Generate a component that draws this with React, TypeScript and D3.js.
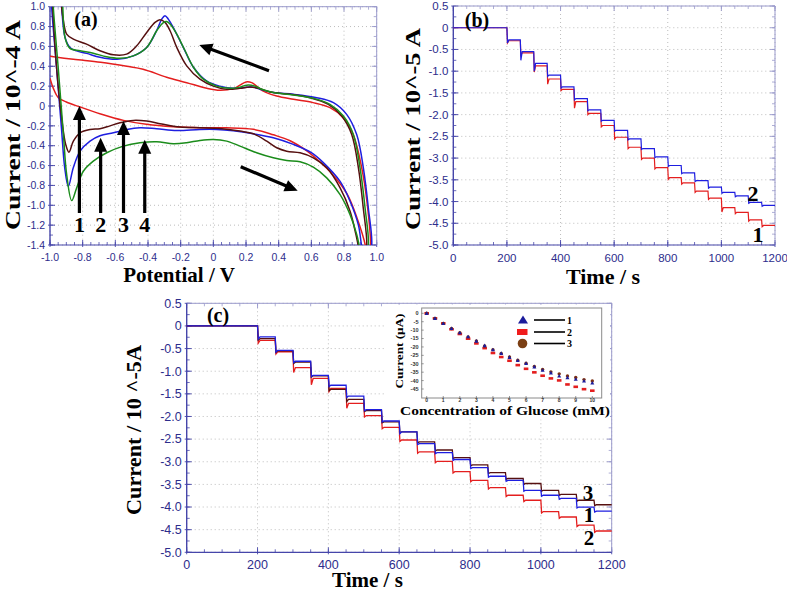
import React from "react";
import * as d3 from "d3";

type P = [number, number];

// ---------- Panel (a): cyclic voltammograms (potential V, current 10^-4 A) ----------
const cvRed: P[] = [
  [-1.0, 0.28], [-0.98, 0.18], [-0.949, 0.084], [-0.9, 0.04], [-0.816, -0.01], [-0.69, -0.08],
  [-0.55, -0.145], [-0.41, -0.185], [-0.245, -0.21], [-0.08, -0.22], [0.08, -0.22], [0.245, -0.235],
  [0.367, -0.29], [0.47, -0.35], [0.57, -0.45], [0.65, -0.56], [0.73, -0.69], [0.82, -0.89],
  [0.88, -1.13], [0.93, -1.4], [0.945, -1.6], [0.963, -1.45], [0.94, -0.96], [0.908, -0.62],
  [0.857, -0.29], [0.796, -0.12], [0.714, -0.017], [0.61, 0.034], [0.49, 0.067], [0.388, 0.1],
  [0.306, 0.15], [0.265, 0.2], [0.235, 0.235], [0.2, 0.242], [0.163, 0.21], [0.122, 0.175],
  [0.04, 0.158], [-0.04, 0.178], [-0.163, 0.235], [-0.286, 0.29], [-0.43, 0.37], [-0.53, 0.4],
  [-0.69, 0.44], [-0.857, 0.47], [-1.0, 0.5],
];
const cvBlue: P[] = [
  [-0.995, 1.2], [-0.99, 1.0], [-0.96, 0.39], [-0.93, -0.22], [-0.91, -0.62], [-0.888, -0.81],
  [-0.857, -0.62], [-0.816, -0.455], [-0.755, -0.354], [-0.694, -0.3], [-0.612, -0.27], [-0.53, -0.236],
  [-0.449, -0.219], [-0.347, -0.229], [-0.224, -0.246], [-0.082, -0.236], [0.02, -0.236], [0.122, -0.25],
  [0.245, -0.28], [0.367, -0.32], [0.49, -0.387], [0.6, -0.47], [0.673, -0.57], [0.776, -0.76],
  [0.837, -0.96], [0.888, -1.2], [0.908, -1.41], [0.935, -1.6], [0.969, -1.41], [0.949, -1.03],
  [0.918, -0.62], [0.878, -0.29], [0.816, -0.084], [0.735, 0.034], [0.633, 0.084], [0.49, 0.118],
  [0.367, 0.135], [0.286, 0.168], [0.245, 0.19], [0.184, 0.185], [0.122, 0.178], [0.04, 0.2],
  [-0.04, 0.25], [-0.122, 0.39], [-0.184, 0.59], [-0.245, 0.79], [-0.276, 0.875], [-0.296, 0.91],
  [-0.316, 0.875], [-0.347, 0.76], [-0.408, 0.59], [-0.49, 0.505], [-0.59, 0.47], [-0.694, 0.49],
  [-0.776, 0.53], [-0.837, 0.555], [-0.878, 0.59], [-0.908, 0.69], [-0.929, 1.0], [-0.94, 1.23],
];
const cvBrown: P[] = [
  [-0.99, 1.2], [-0.984, 1.0], [-0.96, 0.39], [-0.929, -0.118], [-0.904, -0.387], [-0.884, -0.465],
  [-0.857, -0.354], [-0.816, -0.27], [-0.755, -0.236], [-0.694, -0.229], [-0.633, -0.2], [-0.571, -0.168],
  [-0.49, -0.145], [-0.408, -0.152], [-0.327, -0.178], [-0.204, -0.212], [-0.082, -0.219], [0.04, -0.226],
  [0.163, -0.253], [0.245, -0.279], [0.327, -0.354], [0.388, -0.421], [0.449, -0.455], [0.531, -0.471],
  [0.612, -0.522], [0.694, -0.623], [0.776, -0.825], [0.837, -1.06], [0.873, -1.296], [0.888, -1.414],
  [0.915, -1.6], [0.939, -1.414], [0.918, -1.03], [0.888, -0.623], [0.847, -0.286], [0.786, -0.1],
  [0.704, 0.017], [0.592, 0.084], [0.47, 0.118], [0.347, 0.141], [0.276, 0.178], [0.224, 0.192],
  [0.163, 0.178], [0.082, 0.168], [0.0, 0.2], [-0.082, 0.27], [-0.163, 0.404], [-0.224, 0.59],
  [-0.265, 0.758], [-0.296, 0.842], [-0.327, 0.869], [-0.357, 0.842], [-0.408, 0.741], [-0.469, 0.606],
  [-0.531, 0.522], [-0.612, 0.515], [-0.694, 0.556], [-0.776, 0.623], [-0.857, 0.673], [-0.898, 0.724],
  [-0.918, 0.859], [-0.929, 1.0], [-0.935, 1.23],
];
const cvGreen: P[] = [
  [-0.985, 1.2], [-0.98, 1.0], [-0.95, 0.39], [-0.918, -0.286], [-0.898, -0.69], [-0.867, -0.953],
  [-0.837, -0.825], [-0.796, -0.657], [-0.735, -0.556], [-0.653, -0.471], [-0.551, -0.404], [-0.449, -0.37],
  [-0.347, -0.36], [-0.245, -0.38], [-0.163, -0.37], [-0.082, -0.347], [0.0, -0.337], [0.082, -0.354],
  [0.163, -0.404], [0.265, -0.471], [0.367, -0.522], [0.449, -0.549], [0.531, -0.562], [0.612, -0.616],
  [0.694, -0.724], [0.776, -0.892], [0.837, -1.094], [0.878, -1.296], [0.894, -1.414], [0.92, -1.6],
  [0.949, -1.414], [0.929, -1.03], [0.898, -0.623], [0.857, -0.286], [0.796, -0.1], [0.714, 0.017],
  [0.612, 0.077], [0.49, 0.111], [0.367, 0.135], [0.296, 0.168], [0.255, 0.2], [0.204, 0.21],
  [0.163, 0.19], [0.102, 0.178], [0.02, 0.2], [-0.061, 0.27], [-0.122, 0.39], [-0.173, 0.556],
  [-0.224, 0.724], [-0.265, 0.825], [-0.286, 0.85], [-0.306, 0.84], [-0.347, 0.758], [-0.408, 0.59],
  [-0.49, 0.505], [-0.571, 0.48], [-0.653, 0.495], [-0.735, 0.532], [-0.816, 0.556], [-0.878, 0.58],
  [-0.908, 0.69], [-0.922, 1.0], [-0.93, 1.23],
];
const aXTicks = [-1.0, -0.8, -0.6, -0.4, -0.2, 0, 0.2, 0.4, 0.6, 0.8, 1.0];
const aYTicks = [1.0, 0.8, 0.6, 0.4, 0.2, 0, -0.2, -0.4, -0.6, -0.8, -1.0, -1.2, -1.4];
// vertical arrows 1-4: potential and current of tip
const aArrowLabels = ["1", "2", "3", "4"];
const aArrowV = [-0.82, -0.69, -0.55, -0.42];
const aArrowTip = [0.0, -0.32, -0.15, -0.34];

// ---------- Panels (b), (c): amperometric steps (time s, current 10^-5 A) ----------
const stepTimes = [200, 250, 300, 350, 400, 450, 500, 550, 600, 650, 700, 750, 800, 850, 900, 950, 1000, 1050, 1100, 1150];
const tTicks = [0, 200, 400, 600, 800, 1000, 1200];
const iTicks = [0.5, 0, -0.5, -1.0, -1.5, -2.0, -2.5, -3.0, -3.5, -4.0, -4.5, -5.0];

const bLevels1 = [0, -0.3, -0.58, -0.88, -1.18, -1.42, -1.7, -1.97, -2.25, -2.52, -2.75, -3.0, -3.22, -3.45, -3.57, -3.76, -3.92, -4.14, -4.25, -4.42, -4.55];
const bSpikes1 = [0.05, 0.05, 0.14, 0.12, 0.03, 0.15, 0.03, 0.03, 0.04, 0.03, 0.03, 0.03, 0.04, 0.03, 0.03, 0.03, 0.1, 0.03, 0.03, 0.03];
const bLevels2 = [0, -0.28, -0.55, -0.82, -1.09, -1.36, -1.63, -1.89, -2.13, -2.36, -2.56, -2.78, -2.97, -3.17, -3.34, -3.52, -3.67, -3.79, -3.87, -4.02, -4.09];
const bSpikes2 = [0.07, 0.2, 0.18, 0.03, 0.03, 0.03, 0.02, 0.02, 0.02, 0.02, 0.02, 0.02, 0.02, 0.02, 0.02, 0.02, 0.02, 0.02, 0.02, 0.02];

const cLevels1 = [0, -0.24, -0.54, -0.78, -1.09, -1.31, -1.55, -1.85, -2.1, -2.34, -2.6, -2.8, -2.95, -3.13, -3.32, -3.41, -3.63, -3.74, -3.81, -4.0, -4.09];
const cSpikes1 = [0.05, 0.04, 0.03, 0.03, 0.03, 0.03, 0.02, 0.02, 0.04, 0.02, 0.02, 0.02, 0.02, 0.02, 0.02, 0.02, 0.02, 0.02, 0.02, 0.02];
const cLevels2 = [0, -0.32, -0.57, -0.92, -1.16, -1.38, -1.71, -1.98, -2.24, -2.52, -2.78, -2.99, -3.22, -3.41, -3.57, -3.74, -3.85, -4.1, -4.22, -4.4, -4.53];
const cSpikes2 = [0.06, 0.05, 0.11, 0.14, 0.07, 0.11, 0.03, 0.03, 0.03, 0.03, 0.03, 0.03, 0.03, 0.03, 0.03, 0.03, 0.03, 0.03, 0.03, 0.03];
const cLevels3 = [0, -0.28, -0.55, -0.8, -1.1, -1.4, -1.62, -1.87, -2.12, -2.34, -2.56, -2.74, -2.91, -3.07, -3.24, -3.37, -3.48, -3.63, -3.72, -3.85, -3.95];
const cSpikes3 = [0.03, 0.03, 0.03, 0.03, 0.03, 0.05, 0.02, 0.02, 0.02, 0.02, 0.02, 0.02, 0.02, 0.02, 0.02, 0.02, 0.02, 0.02, 0.02, 0.02];

// ---------- Inset: current (µA) vs glucose concentration (mM) ----------
const conc = [0, 0.5, 1, 1.5, 2, 2.5, 3, 3.5, 4, 4.5, 5, 5.5, 6, 6.5, 7, 7.5, 8, 8.5, 9, 9.5, 10];
const inset1 = [0, -3, -6, -9, -11.5, -13.9, -16.5, -19.2, -21.6, -23.8, -26.2, -28, -29.8, -31.8, -33.8, -35.4, -37.2, -38.2, -39.2, -40.2, -41.4];
const inset2 = [0, -3, -6, -9.5, -12.3, -15.1, -17.9, -20.7, -23.6, -26, -28.2, -30.8, -33, -35.1, -37.1, -38.7, -39.9, -42.3, -43.7, -45.1, -46];
const inset3 = [0, -3, -6, -9, -11.5, -14, -16.5, -19.4, -21.6, -23.8, -26, -27.9, -29.7, -31.6, -33.4, -34.8, -36, -37.2, -38.2, -39.4, -40.2];
const insetXTicks = [0, 1, 2, 3, 4, 5, 6, 7, 8, 9, 10];
const insetYTicks = [0, -5, -10, -15, -20, -25, -30, -35, -40, -45];

const SANS = "'Liberation Sans', Arial, sans-serif";
const SERIF = "'Liberation Serif', 'Times New Roman', serif";
const TICKC = "#2d2d8c";
const AXC = "#4646aa";
const AXC2 = "#9a9acc";
const RED = "#e41e1e";
const BLUE = "#1e1ee0";
const BROWN = "#561010";
const GREEN = "#1b8c1b";

function stepPoints(levels: number[], spikes: number[]): P[] {
  const pts: P[] = [[0, levels[0]]];
  stepTimes.forEach((t, i) => {
    pts.push([t, levels[i]]);
    pts.push([t + 2, levels[i + 1] - spikes[i]]);
    pts.push([t + 7, levels[i + 1]]);
  });
  pts.push([1200, levels[levels.length - 1]]);
  return pts;
}

type FrameProps = {
  x: d3.ScaleLinear<number, number>;
  y: d3.ScaleLinear<number, number>;
  xTicks: number[];
  yTicks: number[];
  xMinor: number;
  yMinor: number;
  fmtX: (v: number) => string;
  fmtY: (v: number) => string;
  fs: number;
  xGap: number;
};

function Frame({ x, y, xTicks, yTicks, xMinor, yMinor, fmtX, fmtY, fs, xGap }: FrameProps) {
  const [x0, x1] = x.range();
  const [yb, yt] = y.range();
  const [dx0, dx1] = x.domain();
  const [dy0, dy1] = y.domain();
  const xm = d3.range(dx0, dx1 + 1e-9, xMinor);
  const ym = d3.range(dy0, dy1 + 1e-9, yMinor);
  return (
    <g>
      {xTicks.map((v, i) => (
        <line key={"gx" + i} x1={x(v)} x2={x(v)} y1={yt} y2={yb} stroke="#bdbdbd" strokeDasharray="1 3" />
      ))}
      {yTicks.map((v, i) => (
        <line key={"gy" + i} x1={x0} x2={x1} y1={y(v)} y2={y(v)} stroke="#bdbdbd" strokeDasharray="1 3" />
      ))}
      {xm.map((v, i) => (
        <g key={"mx" + i}>
          <line x1={x(v)} x2={x(v)} y1={yb} y2={yb - 3} stroke={AXC} strokeWidth={0.8} />
          <line x1={x(v)} x2={x(v)} y1={yt} y2={yt + 3} stroke={AXC2} strokeWidth={0.8} />
        </g>
      ))}
      {ym.map((v, i) => (
        <g key={"my" + i}>
          <line x1={x0} x2={x0 + 3} y1={y(v)} y2={y(v)} stroke={AXC} strokeWidth={0.8} />
          <line x1={x1} x2={x1 - 3} y1={y(v)} y2={y(v)} stroke={AXC2} strokeWidth={0.8} />
        </g>
      ))}
      {xTicks.map((v, i) => (
        <g key={"tx" + i}>
          <line x1={x(v)} x2={x(v)} y1={yb + 2} y2={yb - 5} stroke={AXC} strokeWidth={0.9} />
          <line x1={x(v)} x2={x(v)} y1={yt} y2={yt + 5} stroke={AXC2} strokeWidth={0.9} />
          <text x={x(v)} y={yb + xGap} fontSize={fs} fontFamily={SANS} fill={TICKC} textAnchor="middle">
            {fmtX(v)}
          </text>
        </g>
      ))}
      {yTicks.map((v, i) => (
        <g key={"ty" + i}>
          <line x1={x0 - 2} x2={x0 + 5} y1={y(v)} y2={y(v)} stroke={AXC} strokeWidth={0.9} />
          <line x1={x1} x2={x1 - 5} y1={y(v)} y2={y(v)} stroke={AXC2} strokeWidth={0.9} />
          <text x={x0 - 5} y={y(v)} dy="0.35em" fontSize={fs} fontFamily={SANS} fill={TICKC} textAnchor="end">
            {fmtY(v)}
          </text>
        </g>
      ))}
      <line x1={x0} x2={x1} y1={yt} y2={yt} stroke={AXC2} strokeWidth={1} />
      <line x1={x1} x2={x1} y1={yt} y2={yb} stroke={AXC2} strokeWidth={1} />
      <line x1={x0} x2={x1} y1={yb} y2={yb} stroke={AXC} strokeWidth={1.2} />
      <line x1={x0} x2={x0} y1={yt} y2={yb} stroke={AXC} strokeWidth={1.4} />
    </g>
  );
}

function Arrow({ x1, y1, x2, y2, w = 3.2, hl = 13, hw = 6 }: { x1: number; y1: number; x2: number; y2: number; w?: number; hl?: number; hw?: number }) {
  const dx = x2 - x1, dy = y2 - y1;
  const L = Math.hypot(dx, dy);
  const ux = dx / L, uy = dy / L;
  const bx = x2 - ux * hl, by = y2 - uy * hl;
  const px = -uy, py = ux;
  return (
    <g>
      <line x1={x1} y1={y1} x2={bx + ux * 2} y2={by + uy * 2} stroke="#000" strokeWidth={w} />
      <polygon points={`${x2},${y2} ${bx + px * hw},${by + py * hw} ${bx - px * hw},${by - py * hw}`} fill="#000" />
    </g>
  );
}

function YTitle({ x, y, text, len, fs }: { x: number; y: number; text: string; len: number; fs: number }) {
  return (
    <text
      transform={`translate(${x},${y}) rotate(-90)`}
      textAnchor="middle"
      fontFamily={SERIF}
      fontWeight="bold"
      fontSize={fs}
      textLength={len}
      lengthAdjust="spacingAndGlyphs"
    >
      {text}
    </text>
  );
}

const fmt1 = (v: number) => (Math.abs(v) < 1e-9 ? "0" : v.toFixed(1));
const fmt0 = (v: number) => String(v);

export default function App() {
  // Panel (a)
  const aX = d3.scaleLinear().domain([-1, 1]).range([50, 376.7]);
  const aY = d3.scaleLinear().domain([-1.4, 1.0]).range([245, 6.7]);
  const aLine = d3.line<P>().x((d) => aX(d[0])).y((d) => aY(d[1])).curve(d3.curveCatmullRom.alpha(0.5));

  // Panel (b)
  const bX = d3.scaleLinear().domain([0, 1200]).range([453.3, 775]);
  const bY = d3.scaleLinear().domain([-5, 0.5]).range([245, 6]);
  const bLine = d3.line<P>().x((d) => bX(d[0])).y((d) => bY(d[1]));

  // Panel (c)
  const cX = d3.scaleLinear().domain([0, 1200]).range([186.7, 611.7]);
  const cY = d3.scaleLinear().domain([-5, 0.5]).range([552.3, 303.3]);
  const cLine = d3.line<P>().x((d) => cX(d[0])).y((d) => cY(d[1]));

  // Inset
  const iX = d3.scaleLinear().domain([0, 10]).range([426.7, 592.3]);
  const iY = d3.scaleLinear().domain([-45, 0]).range([389, 313.3]);

  return (
    <svg width={787} height={591} style={{ position: "absolute", left: 0, top: 0, background: "#fff" }}>
      <defs>
        <clipPath id="clipA">
          <rect x={50} y={6.7} width={326.7} height={238.3} />
        </clipPath>
      </defs>
      <rect x={0} y={0} width={787} height={591} fill="#fff" />

      {/* ---------------- Panel (a) ---------------- */}
      <Frame x={aX} y={aY} xTicks={aXTicks} yTicks={aYTicks} xMinor={0.05} yMinor={0.1} fmtX={fmt1} fmtY={fmt1} fs={10.5} xGap={15.5} />
      <g clipPath="url(#clipA)" fill="none" strokeWidth={1.5}>
        <path d={aLine(cvRed) || ""} stroke={RED} />
        <path d={aLine(cvBlue) || ""} stroke={BLUE} />
        <path d={aLine(cvBrown) || ""} stroke={BROWN} />
        <path d={aLine(cvGreen) || ""} stroke={GREEN} />
      </g>
      <text x={86} y={26} textAnchor="middle" fontFamily={SERIF} fontWeight="bold" fontSize={20}>(a)</text>
      <Arrow x1={269} y1={70.7} x2={199.3} y2={45} />
      <Arrow x1={240.7} y1={166.7} x2={297.7} y2={190.7} />
      {aArrowV.map((v, i) => (
        <g key={"va" + i}>
          <Arrow x1={aX(v)} y1={213} x2={aX(v)} y2={aY(aArrowTip[i])} w={3.2} hl={14} hw={6.5} />
          <text x={aX(v)} y={231.5} textAnchor="middle" fontFamily={SERIF} fontWeight="bold" fontSize={22}>
            {aArrowLabels[i]}
          </text>
        </g>
      ))}
      <YTitle x={20} y={125} text="Current / 10^-4 A" len={210} fs={21} />
      <text x={179} y={282} textAnchor="middle" fontFamily={SERIF} fontWeight="bold" fontSize={21}>Potential / V</text>

      {/* ---------------- Panel (b) ---------------- */}
      <Frame x={bX} y={bY} xTicks={tTicks} yTicks={iTicks} xMinor={50} yMinor={0.25} fmtX={fmt0} fmtY={fmt1} fs={11.5} xGap={17} />
      <g fill="none" strokeWidth={1.2}>
        <path d={bLine(stepPoints(bLevels1, bSpikes1)) || ""} stroke={RED} />
        <path d={bLine(stepPoints(bLevels2, bSpikes2)) || ""} stroke={BLUE} />
      </g>
      <text x={477} y={27} textAnchor="middle" fontFamily={SERIF} fontWeight="bold" fontSize={20}>(b)</text>
      <text x={753} y={201} textAnchor="middle" fontFamily={SERIF} fontWeight="bold" fontSize={22}>2</text>
      <text x={758} y={242} textAnchor="middle" fontFamily={SERIF} fontWeight="bold" fontSize={22}>1</text>
      <YTitle x={420} y={129} text="Current / 10^-5 A" len={202} fs={21} />
      <text x={603} y={284} textAnchor="middle" fontFamily={SERIF} fontWeight="bold" fontSize={22}>Time / s</text>

      {/* ---------------- Panel (c) ---------------- */}
      <Frame x={cX} y={cY} xTicks={tTicks} yTicks={iTicks} xMinor={50} yMinor={0.25} fmtX={fmt0} fmtY={fmt1} fs={12.5} xGap={17} />
      <g fill="none" strokeWidth={1.3}>
        <path d={cLine(stepPoints(cLevels2, cSpikes2)) || ""} stroke={RED} />
        <path d={cLine(stepPoints(cLevels3, cSpikes3)) || ""} stroke={BROWN} />
        <path d={cLine(stepPoints(cLevels1, cSpikes1)) || ""} stroke={BLUE} />
      </g>
      <text x={218} y={321.5} textAnchor="middle" fontFamily={SERIF} fontWeight="bold" fontSize={20}>(c)</text>
      <text x={588} y={500} textAnchor="middle" fontFamily={SERIF} fontWeight="bold" fontSize={21}>3</text>
      <text x={589} y={522} textAnchor="middle" fontFamily={SERIF} fontWeight="bold" fontSize={21}>1</text>
      <text x={589} y={545} textAnchor="middle" fontFamily={SERIF} fontWeight="bold" fontSize={21}>2</text>
      <YTitle x={141} y={430} text="Current / 10 ^-5A" len={170} fs={22} />
      <text x={367.5} y={587} textAnchor="middle" fontFamily={SERIF} fontWeight="bold" fontSize={21}>Time / s</text>

      {/* ---------------- Inset ---------------- */}
      <rect x={386} y={304.5} width={224} height={115} fill="#fff" />
      <rect x={421.7} y={308} width={180} height={90} fill="#fff" stroke="#8a8a8a" strokeWidth={1} />
      {insetXTicks.map((v) => (
        <g key={"ix" + v}>
          <line x1={iX(v)} x2={iX(v)} y1={398} y2={396} stroke="#555" strokeWidth={0.6} />
          <text x={iX(v)} y={402} fontSize={5} fontFamily={SANS} fontWeight="bold" fill="#333" textAnchor="middle">{v}</text>
        </g>
      ))}
      {insetYTicks.map((v) => (
        <g key={"iy" + v}>
          <line x1={421.7} x2={423.7} y1={iY(v)} y2={iY(v)} stroke="#555" strokeWidth={0.6} />
          <text x={418.5} y={iY(v)} dy="0.35em" fontSize={5.5} fontFamily={SANS} fontWeight="bold" fill="#333" textAnchor="end">{v}</text>
        </g>
      ))}
      {conc.map((c, i) => (
        <rect key={"r" + i} x={iX(c) - 2.3} y={iY(inset2[i]) - 1.3} width={4.6} height={2.6} fill={RED} />
      ))}
      {conc.map((c, i) => (
        <circle key={"c" + i} cx={iX(c)} cy={iY(inset3[i])} r={1.7} fill="#7a2e12" />
      ))}
      {conc.map((c, i) => {
        const px = iX(c), py = iY(inset1[i]);
        return <polygon key={"t" + i} points={`${px},${py - 2} ${px - 2},${py + 1.6} ${px + 2},${py + 1.6}`} fill="#1c1c9c" />;
      })}
      {/* legend */}
      <polygon points="523,315.5 518,323.5 528,323.5" fill="#1c1c9c" />
      <rect x={517} y={329} width={10.5} height={6} fill="#f01c1c" />
      <circle cx={522.5} cy={343.5} r={4.8} fill="#7b3f14" />
      {[320, 332, 343.5].map((yy, i) => (
        <g key={"lg" + i}>
          <line x1={534} x2={565} y1={yy} y2={yy} stroke="#000" strokeWidth={1.6} />
          <text x={567} y={yy + 3.5} fontFamily={SERIF} fontWeight="bold" fontSize={10}>{String(i + 1)}</text>
        </g>
      ))}
      <YTitle x={403} y={351} text="Current (μA)" len={75} fs={11} />
      <text x={505} y={415} textAnchor="middle" fontFamily={SERIF} fontWeight="bold" fontSize={12} textLength={210} lengthAdjust="spacingAndGlyphs">
        Concentration of Glucose (mM)
      </text>
    </svg>
  );
}
